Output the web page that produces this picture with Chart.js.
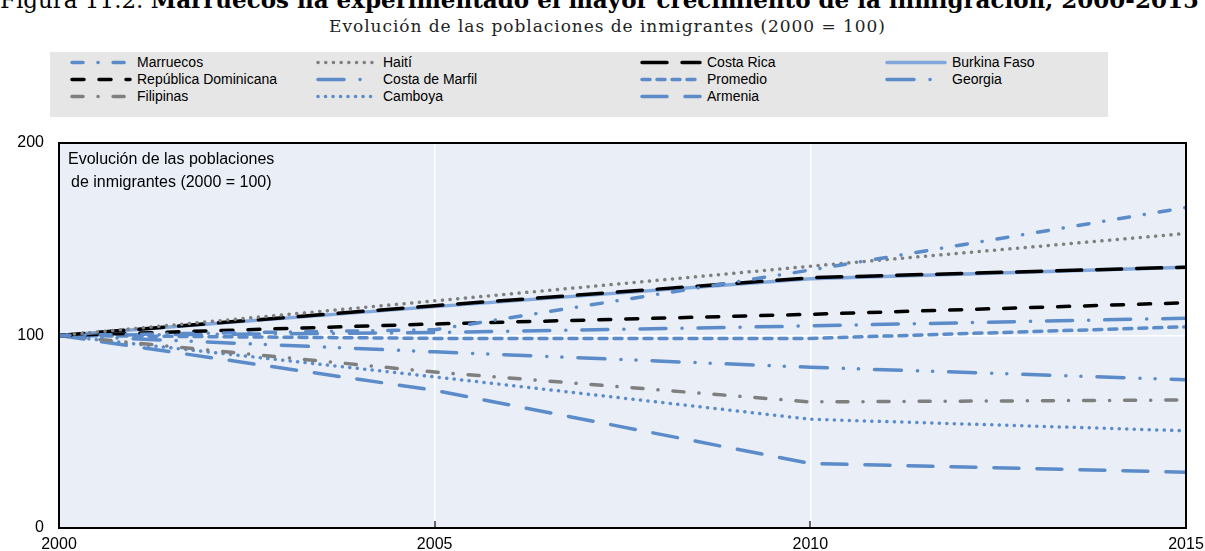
<!DOCTYPE html>
<html>
<head>
<meta charset="utf-8">
<script src="https://cdn.jsdelivr.net/npm/chart.js@4.4.1/dist/chart.umd.min.js"></script>
<style>
body{margin:0;background:#fff;width:1205px;height:551px;overflow:hidden;position:relative;font-family:"Liberation Sans",Arial,sans-serif}
#title{position:absolute;left:0px;top:-12px;font:23px "DejaVu Serif",serif;line-height:23px;white-space:nowrap;color:#000}
#title b{font-weight:bold}
#subtitle{position:absolute;left:0;width:1215px;text-align:center;top:16px;font:17px "DejaVu Serif",serif;letter-spacing:0.95px;line-height:20px;color:#222;white-space:nowrap}
#legend{position:absolute;left:50px;top:52px;width:1058px;height:65px;background:#e6e6e6}
.item{position:absolute;height:17px;line-height:17px;font-size:14px;white-space:nowrap;width:240px}
.item svg{position:absolute;left:0;top:2px}
.item span{position:absolute;left:67px;top:0}
#wrap{position:absolute;left:0;top:120px}
</style>
</head>
<body>
<div id="title">Figura 11.2. <b>Marruecos ha experimentado el mayor crecimiento de la inmigración, 2000-2015</b></div>
<div id="subtitle">Evolución de las poblaciones de inmigrantes (2000 = 100)</div>
<div id="legend"></div>
<div id="wrap"><canvas id="mycanvas" width="1205" height="431"></canvas></div>
<script>
// values (index 2000 = 100)
var years = [2000, 2005, 2010, 2015];
var marruecos = [100, 103, 134, 166.5];
var haiti = [100, 118, 136, 153];
var costaRica = [100, 115.5, 130, 135.5];
var burkinaFaso = [100, 115, 129.5, 135.5];
var repDominicana = [100, 106, 111, 117];
var costaMarfil = [100, 101.5, 105, 109];
var promedio = [100, 98.5, 98.5, 104.5];
var georgia = [100, 91.5, 83.5, 77];
var filipinas = [100, 81, 65.5, 66.5];
var camboya = [100, 78.5, 56.5, 50.5];
var armenia = [100, 71.5, 33.5, 29];

var noteLines = ["Evolución de las poblaciones", "de inmigrantes (2000 = 100)"];

var blue = "#5b8bc9";
var grey = "#7f7f7f";
var black = "#000000";

function pts(vals){
  return years.map(function(y, i){ return {x: y, y: vals[i]}; });
}

function line(label, vals, color, dash, width){
  return {
    label: label,
    data: pts(vals),
    borderColor: color,
    backgroundColor: color,
    borderWidth: width || 3.5,
    borderDash: dash,
    borderCapStyle: "round",
    pointRadius: 0,
    tension: 0,
    fill: false
  };
}

const datasets = [
  line("Marruecos", marruecos, blue, [11, 15, 0.1, 15]),
  line("Haití", haiti, grey, [0.1, 7.6]),
  line("Costa Rica", costaRica, black, [25, 15]),
  line("Burkina Faso", burkinaFaso, "rgba(110,155,215,0.85)", [], 3.5),
  line("República Dominicana", repDominicana, black, [12, 15]),
  line("Costa de Marfil", costaMarfil, blue, [26, 16, 0.1, 16]),
  line("Promedio", promedio, blue, [8, 7]),
  line("Georgia", georgia, blue, [27, 16, 0.1, 15, 0.1, 16]),
  line("Filipinas", filipinas, grey, [11, 15, 0.1, 15]),
  line("Camboya", camboya, blue, [0.1, 7.4]),
  line("Armenia", armenia, blue, [25, 18])
];

const plotFrame = {
  id: "plotFrame",
  beforeDraw(chart){
    const ctx = chart.ctx, a = chart.chartArea;
    ctx.save();
    ctx.fillStyle = "#e9eef7";
    ctx.fillRect(a.left, a.top, a.right - a.left, a.bottom - a.top);
    ctx.restore();
  },
  afterDraw(chart){
    const ctx = chart.ctx, a = chart.chartArea, sx = chart.scales.x;
    ctx.save();
    ctx.strokeStyle = "#000";
    ctx.lineWidth = 2;
    ctx.strokeRect(a.left, a.top, a.right - a.left, a.bottom - a.top);
    ctx.lineWidth = 1.2;
    [2005, 2010].forEach(function(yr){
      var x = Math.round(sx.getPixelForValue(yr));
      ctx.beginPath();
      ctx.moveTo(x, a.bottom);
      ctx.lineTo(x, a.bottom - 7);
      ctx.stroke();
    });
    ctx.fillStyle = "#000";
    ctx.font = '16px "Liberation Sans", Arial, sans-serif';
    ctx.textBaseline = "middle";
    ctx.fillText(noteLines[0], a.left + 9, a.top + 17);
    ctx.fillText(noteLines[1], a.left + 12, a.top + 40);
    ctx.restore();
  }
};

Chart.defaults.font.family = '"Liberation Sans", Arial, sans-serif';
Chart.defaults.color = "#000";

const config = {
  type: "line",
  data: { datasets: datasets },
  options: {
    responsive: false,
    animation: false,
    devicePixelRatio: 1,
    layout: { padding: { top: 23, right: 19, left: 0, bottom: 0 } },
    plugins: { legend: { display: false }, tooltip: { enabled: false } },
    scales: {
      x: {
        type: "linear", min: 2000, max: 2015,
        border: { display: false },
        grid: {
          color: function(c){ return c.tick && (c.tick.value === 2005 || c.tick.value === 2010) ? "#ffffff" : "rgba(0,0,0,0)"; },
          lineWidth: 1.5, drawTicks: false
        },
        ticks: { stepSize: 5, padding: 7, autoSkip: false, maxRotation: 0, font: { size: 16 },
          callback: function(v){ return String(v); } },
        afterFit: function(s){ s.height = 23; s.paddingLeft = 0; s.paddingRight = 0; }
      },
      y: {
        min: 0, max: 200,
        border: { display: false },
        grid: {
          color: function(c){ return c.tick && c.tick.value === 100 ? "#ffffff" : "rgba(0,0,0,0)"; },
          lineWidth: 1.5, drawTicks: false
        },
        ticks: { stepSize: 100, padding: 15, font: { size: 16 } },
        afterFit: function(s){ s.width = 59; s.paddingTop = 0; s.paddingBottom = 0; }
      }
    }
  },
  plugins: [plotFrame]
};

const myChart = new Chart(document.getElementById("mycanvas"), config);

// html legend, 4 columns, filled row by row
var colLeft = [20, 266, 590, 835];
var legend = document.getElementById("legend");
datasets.forEach(function(ds, i){
  var col = i % 4, row = Math.floor(i / 4);
  var div = document.createElement("div");
  div.className = "item";
  div.style.left = colLeft[col] + "px";
  div.style.top = (2 + row * 17) + "px";
  var dash = ds.borderDash.length ? ' stroke-dasharray="' + ds.borderDash.join(" ") + '"' : "";
  div.innerHTML = '<svg width="62" height="13"><line x1="2" y1="6.5" x2="60" y2="6.5" stroke="' + ds.borderColor +
    '" stroke-width="3.5" stroke-linecap="round"' + dash + '/></svg><span>' + ds.label + '</span>';
  legend.appendChild(div);
});
</script>
</body>
</html>
